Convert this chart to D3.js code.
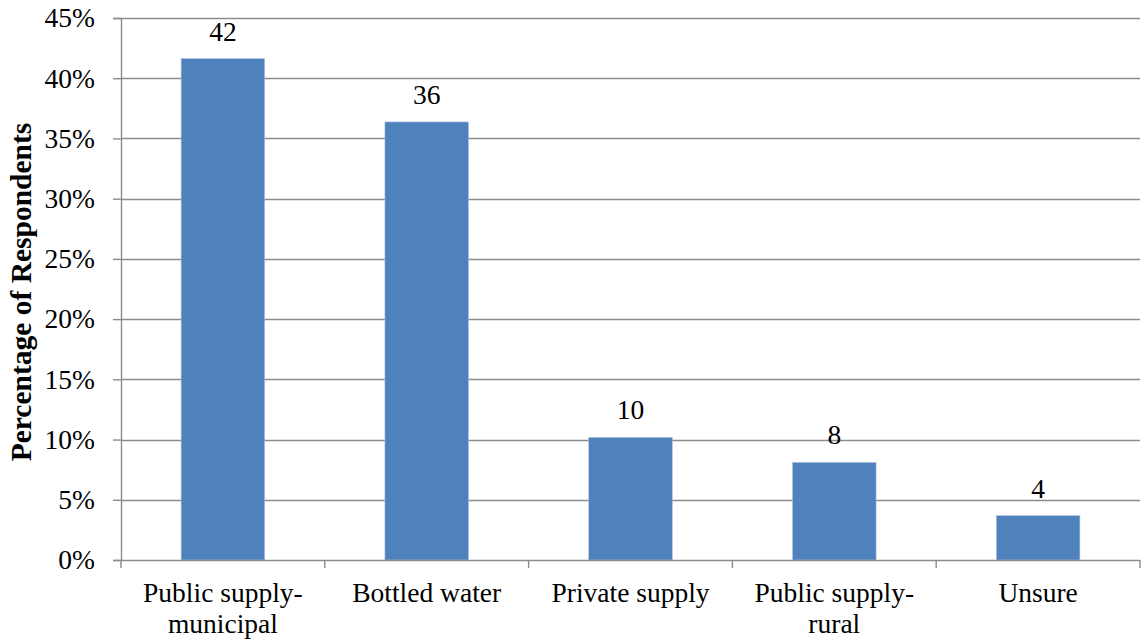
<!DOCTYPE html>
<html>
<head>
<meta charset="utf-8">
<script src="https://cdn.jsdelivr.net/npm/d3@7"></script>
<style>
  html, body { margin: 0; padding: 0; background: #fff; }
  svg text { font-family: "Liberation Serif", "DejaVu Serif", serif; fill: #000; }
</style>
</head>
<body>
<svg id="chart" width="1148" height="640"></svg>
<script>
// Drinking water source reported by respondents (percent)
const categories = [["Public supply-", "municipal"], ["Bottled water"], ["Private supply"], ["Public supply-", "rural"], ["Unsure"]];
const values = [41.63, 36.37, 10.18, 8.1, 3.68];
const yTicks = [0, 5, 10, 15, 20, 25, 30, 35, 40, 45];
const yTitle = "Percentage of Respondents";

const FONT = "Liberation Serif";
const FS = 27.5;
const GRID = "#8c8c8c";

const svg = d3.select("#chart");
const margin = { left: 121, right: 8, top: 18, bottom: 80 };
const W = 1148, H = 640;
const plotW = W - margin.left - margin.right;
const plotH = H - margin.top - margin.bottom;
const g = svg.append("g").attr("transform", `translate(${margin.left},${margin.top})`);

const x = d3.scaleBand().domain(d3.range(categories.length)).range([0, plotW]).paddingInner(0.59).paddingOuter(0.295);
const xOuter = d3.scaleBand().domain(d3.range(categories.length)).range([0, plotW]);
const y = d3.scaleLinear().domain([0, 45]).range([plotH, 0]);

// horizontal gridlines
g.append("g").selectAll("line").data(yTicks.filter(t => t > 0)).join("line")
  .attr("x1", 0).attr("x2", plotW)
  .attr("y1", d => Math.round(y(d)) + 0.5).attr("y2", d => Math.round(y(d)) + 0.5)
  .attr("stroke", GRID).attr("stroke-width", 1.4);

// y axis
const yAxis = g.append("g").call(d3.axisLeft(y).tickValues(yTicks).tickFormat(d => d + "%").tickSize(8).tickPadding(18));
yAxis.select(".domain").attr("stroke", GRID).attr("stroke-width", 1.4);
yAxis.selectAll(".tick line").attr("stroke", GRID).attr("stroke-width", 1.4);
yAxis.selectAll(".tick text").attr("font-size", FS).attr("font-family", FONT).attr("fill", "#000");

// bars
g.append("g").selectAll("rect").data(values).join("rect")
  .attr("x", (d, i) => x(i)).attr("width", x.bandwidth())
  .attr("y", d => y(d)).attr("height", d => plotH - y(d))
  .attr("fill", "#4f81bd").attr("stroke", "#a9c2e0").attr("stroke-width", 0.6);

// x axis baseline and category boundary ticks
g.append("line").attr("x1", 0).attr("x2", plotW).attr("y1", plotH + 0.5).attr("y2", plotH + 0.5)
  .attr("stroke", GRID).attr("stroke-width", 1.4);
const bounds = d3.range(categories.length + 1).map(i => i < categories.length ? xOuter(i) : plotW);
g.append("g").selectAll("line").data(bounds).join("line")
  .attr("x1", d => d).attr("x2", d => d).attr("y1", plotH).attr("y2", plotH + 8)
  .attr("stroke", GRID).attr("stroke-width", 1.4);

// category labels
const labels = g.append("g").selectAll("text").data(categories).join("text")
  .attr("x", (d, i) => xOuter(i) + xOuter.bandwidth() / 2)
  .attr("y", plotH + 42)
  .attr("text-anchor", "middle").attr("font-size", FS);
labels.selectAll("tspan").data(d => d).join("tspan")
  .attr("x", function () { return d3.select(this.parentNode).attr("x"); })
  .attr("dy", (d, j) => j === 0 ? 0 : 31)
  .text(d => d);

// value labels
g.append("g").selectAll("text").data(values).join("text")
  .attr("x", (d, i) => x(i) + x.bandwidth() / 2)
  .attr("y", d => y(d) - 18)
  .attr("text-anchor", "middle").attr("font-size", FS)
  .text(d => d3.format(".0f")(d));

// y axis title
svg.append("text")
  .attr("transform", `translate(31,${margin.top + plotH / 2 + 3}) rotate(-90)`)
  .attr("text-anchor", "middle").attr("font-size", 29.5).attr("font-weight", "bold")
  .text(yTitle);
</script>
</body>
</html>
